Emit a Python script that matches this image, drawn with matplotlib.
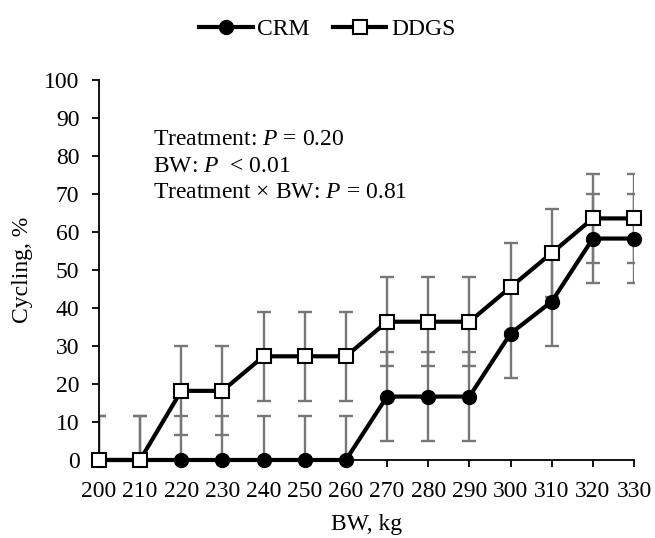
import matplotlib
matplotlib.use("Agg")
import matplotlib.pyplot as plt
import numpy as np

# Data
bw = [200, 210, 220, 230, 240, 250, 260, 270, 280, 290, 300, 310, 320, 330]
crm = [0, 0, 0, 0, 0, 0, 0, 16.7, 16.7, 16.7, 33.3, 41.7, 58.3, 58.3]
ddgs = [0, 0, 18.2, 18.2, 27.3, 27.3, 27.3, 36.4, 36.4, 36.4, 45.5, 54.5, 63.6, 63.6]
crm_se = [11.7] * 14
ddgs_se = [11.7] * 14
stats_lines = [
    r"Treatment: $P$ = 0.20",
    r"BW: $P$  < 0.01",
    r"Treatment × BW: $P$ = 0.81",
]

plt.rcParams["font.family"] = ["Liberation Serif", "DejaVu Serif"]
plt.rcParams["mathtext.fontset"] = "custom"
plt.rcParams["mathtext.rm"] = "Liberation Serif"
plt.rcParams["mathtext.it"] = "Liberation Serif:italic"
plt.rcParams["font.size"] = 17

fig = plt.figure(figsize=(6.55, 5.38), dpi=100)
ax = fig.add_axes([0.151, 0.145, 0.817, 0.706])

err_kw = dict(fmt="none", ecolor="#777777", elinewidth=1.7, capsize=5, capthick=1.7, zorder=1)
ax.errorbar(bw, crm, yerr=crm_se, **err_kw)
ax.errorbar(bw, ddgs, yerr=ddgs_se, **err_kw)

ax.plot(bw, crm, color="black", lw=3.0, marker="o", ms=10,
        mfc="black", mec="black", label="CRM", zorder=3, clip_on=False)
ax.plot(bw, ddgs, color="black", lw=3.0, marker="s", ms=9.5,
        mfc="white", mec="black", mew=1.5, label="DDGS", zorder=4, clip_on=False)

ax.set_xlim(200, 330)
ax.set_ylim(0, 100)
ax.set_xticks(bw)
ax.set_yticks(np.arange(0, 101, 10))
for s in ["top", "right"]:
    ax.spines[s].set_visible(False)
for s in ["left", "bottom"]:
    ax.spines[s].set_linewidth(1.3)
ax.tick_params(direction="out", length=5, width=1.3)
ax.tick_params(axis="y", pad=9)
ax.tick_params(axis="x", pad=10)

ax.set_xlabel("BW, kg", labelpad=9)
ax.set_ylabel("Cycling, %", labelpad=8)

ax.text(0.101, 0.872, "\n".join(stats_lines), transform=ax.transAxes,
        va="top", ha="left", linespacing=1.36)

fig.legend(loc="upper center", ncol=2, frameon=False, bbox_to_anchor=(0.5, 1.005),
           handlelength=2.25, columnspacing=1.0, handletextpad=0.2)

fig.savefig("out.png", dpi=100)
